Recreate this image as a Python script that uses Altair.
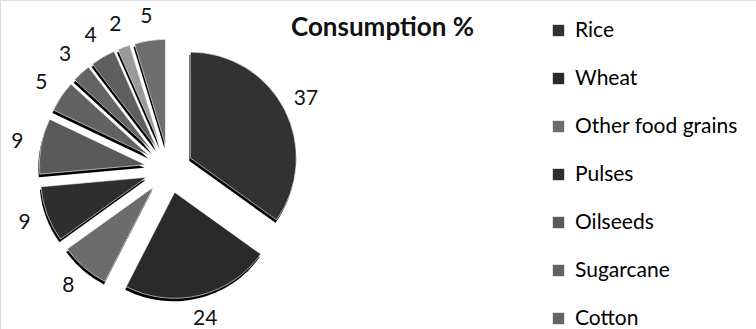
import altair as alt
import pandas as pd

# ---- data ----
categories = ["Rice", "Wheat", "Other food grains", "Pulses", "Oilseeds",
              "Sugarcane", "Cotton", "Jute", "Tobacco", "Others"]
values = [37, 24, 8, 9, 9, 5, 3, 4, 2, 5]
slice_colors = ["#323232", "#2a2a2a", "#6c6c6c", "#2e2e2e", "#5a5a5a",
                "#626262", "#646464", "#5e5e5e", "#9a9a9a", "#6e6e6e"]
legend_shown = categories[:7]
title_text = ["Consumption %"]

df = pd.DataFrame({"crop": categories, "value": values,
                   "order": list(range(len(categories)))})

# ---- layout constants ----
W, H = 756, 329
CX, CY = 169, 169
R = 106
EXPLODE = 24
LABEL_R = 154
FONT = "Lato"

xs = alt.Scale(domain=[-CX, W - CX], nice=False, zero=False)
ys = alt.Scale(domain=[CY - H, CY], nice=False, zero=False)

base = alt.Chart(df).transform_window(
    cum="sum(value)", sort=[alt.SortField("order")], frame=[None, 0]
).transform_joinaggregate(
    total="sum(value)"
).transform_calculate(
    a0="2*PI*(datum.cum-datum.value)/datum.total",
    a1="2*PI*datum.cum/datum.total",
    mid="PI*(2*datum.cum-datum.value)/datum.total",
).transform_calculate(
    ex=f"{EXPLODE}*sin(datum.mid)",
    ey=f"{EXPLODE}*cos(datum.mid)",
    lx=f"{LABEL_R}*sin(datum.mid)",
    ly=f"{LABEL_R}*cos(datum.mid)",
)

enc_common = dict(
    x=alt.X("ex:Q", scale=xs, axis=None),
    y=alt.Y("ey:Q", scale=ys, axis=None),
    theta=alt.Theta("a0:Q", scale=None, stack=None),
    theta2="a1:Q",
)

shadow = base.mark_arc(outerRadius=R, color="#000000", yOffset=3, xOffset=-1).encode(**enc_common)

slices = base.mark_arc(outerRadius=R, stroke="#ffffff", strokeWidth=0.6).encode(
    color=alt.Color(
        "crop:N",
        scale=alt.Scale(domain=categories, range=slice_colors),
        legend=alt.Legend(
            values=legend_shown, title=None, orient="none",
            legendX=548, legendY=20, padding=0,
            symbolType="square", symbolSize=130, symbolStrokeWidth=0,
            labelFont=FONT, labelFontSize=21, labelColor="#000000",
            labelOffset=6, rowPadding=26, labelLimit=300,
        ),
    ),
    **enc_common,
)

labels = base.mark_text(font=FONT, fontSize=21, color="#111111",
                        align="center", baseline="middle").encode(
    x=alt.X("lx:Q", scale=xs, axis=None),
    y=alt.Y("ly:Q", scale=ys, axis=None),
    text="value:Q",
)

title = alt.Chart(pd.DataFrame({"t": title_text})).mark_text(
    font=FONT, fontSize=26, fontWeight="bold", color="#111111",
    align="left", baseline="middle",
).encode(x=alt.value(291), y=alt.value(28), text="t:N")

chart = alt.layer(shadow, slices, labels, title).properties(
    width=W, height=H, padding=0, autosize=alt.AutoSizeParams(type="none")
).configure_view(stroke=None).configure(background="white")

chart.save("out.html", embed_options={"renderer": "svg", "actions": False})
